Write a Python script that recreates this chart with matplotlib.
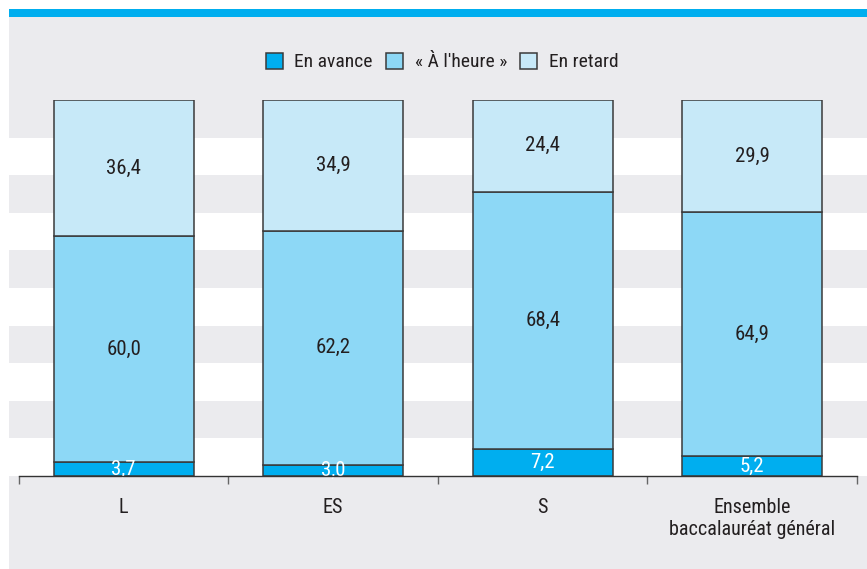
import matplotlib
matplotlib.use("Agg")
import matplotlib.pyplot as plt
from matplotlib.patches import Rectangle
from matplotlib import font_manager as fm

categories = ["L", "ES", "S", "Ensemble\nbaccalauréat général"]
series_names = ["En avance", "« À l'heure »", "En retard"]
en_avance = [3.7, 3.0, 7.2, 5.2]
a_l_heure = [60.0, 62.2, 68.4, 64.9]
en_retard = [36.4, 34.9, 24.4, 29.9]

colors = ["#00aeef", "#8dd8f6", "#c7e9f8"]
label_colors = ["white", "#231f20", "#231f20"]
panel_gray = "#ebebee"

names = {f.name for f in fm.fontManager.ttflist}
fam = None
for cand in ["Liberation Sans Narrow", "Roboto Condensed", "Open Sans Condensed", "Roboto", "DejaVu Sans"]:
    if cand in names:
        fam = cand
        break
plt.rcParams["font.family"] = [fam, "DejaVu Sans"]

W, H = 867, 569
fig = plt.figure(figsize=(W / 100, H / 100), dpi=100)
fig.patch.set_facecolor("white")

def px(x0, y0, x1, y1):
    return (x0 / W, 1 - y1 / H, (x1 - x0) / W, (y1 - y0) / H)

# background panel and top strip
x, y, w, h = px(9, 17, 867, 569)
fig.patches.append(Rectangle((x, y), w, h, transform=fig.transFigure, facecolor=panel_gray, edgecolor="none", zorder=-5))
x, y, w, h = px(9, 9, 867, 17)
fig.patches.append(Rectangle((x, y), w, h, transform=fig.transFigure, facecolor="#00aeef", edgecolor="none", zorder=-5))

ax = fig.add_axes(px(9, 100, 867, 476))
ax.set_zorder(2)
ax.set_facecolor("none")
unit = 838 / 4
ax.set_xlim(-0.5 - 10 / unit, 3.5 + 10 / unit)
ax.set_ylim(0, 100)

for s in range(0, 90, 20):
    ax.axhspan(s, s + 10, color="white", zorder=0, lw=0)

pos = list(range(len(categories)))
bottoms = [0] * len(categories)
for vals, col, lc, name in zip([en_avance, a_l_heure, en_retard], colors, label_colors, series_names):
    ax.bar(pos, vals, bottom=bottoms, width=0.668, color=col, edgecolor="#3a3a3a", linewidth=1.1, label=name, zorder=2)
    for p, v, b in zip(pos, vals, bottoms):
        ax.text(p, b + v / 2, f"{v:.1f}".replace(".", ","), ha="center", va="center",
                fontsize=15, color=lc, zorder=3)
    bottoms = [b + v for b, v in zip(bottoms, vals)]

for side in ["top", "right", "left"]:
    ax.spines[side].set_visible(False)
ax.spines["bottom"].set_bounds(-0.5, 3.5)
ax.spines["bottom"].set_color("#333333")
ax.spines["bottom"].set_linewidth(1.0)
ax.spines["bottom"].set_zorder(4)
ax.set_yticks([])
ax.set_xticks(pos)
ax.set_xticklabels(categories, fontsize=14.5, color="#231f20", linespacing=1.2)
ax.tick_params(axis="x", which="major", length=0, pad=16)
ax.set_xticks([-0.5, 0.5, 1.5, 2.5, 3.5], minor=True)
ax.tick_params(axis="x", which="minor", length=6, width=1.0, color="#666666", direction="out")

leg = fig.legend(loc="center", bbox_to_anchor=(442 / W, 1 - 62 / H), ncol=3, frameon=False,
                 fontsize=14, handlelength=0.9, handleheight=0.9, handletextpad=0.57,
                 columnspacing=0.67)
for t in leg.get_texts():
    t.set_color("#231f20")

fig.savefig("out.png", dpi=100, facecolor="white")
